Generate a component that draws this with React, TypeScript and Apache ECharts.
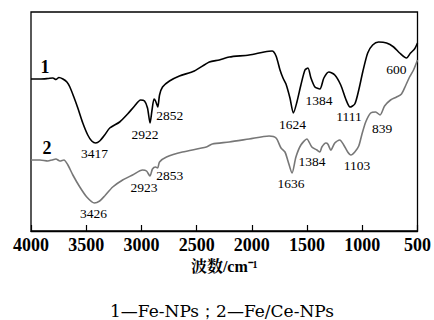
import React, { useEffect, useRef } from "react";
import * as echarts from "echarts";

// Wavenumber (cm^-1) and relative transmittance (arbitrary units)
const wave1 = [4000, 3919, 3847, 3802, 3774, 3747, 3711, 3675, 3648, 3612, 3576, 3531, 3486, 3450, 3414, 3378, 3333, 3287, 3197, 3125, 3062, 3008, 2972, 2945, 2922, 2904, 2886, 2872, 2852, 2836, 2809, 2746, 2656, 2521, 2385, 2295, 2205, 2025, 1889, 1817, 1781, 1745, 1718, 1691, 1655, 1624, 1592, 1556, 1519, 1492, 1465, 1429, 1384, 1348, 1303, 1249, 1195, 1150, 1111, 1068, 1032, 996, 951, 906, 852, 780, 716, 662, 600, 563, 527, 500];
const trans1 = [152, 152, 152.5, 153, 151.5, 153.5, 152, 149, 144, 134, 123, 108, 96, 90, 88, 90, 96, 103, 109, 117, 125, 131, 130, 123, 108, 121, 132, 130, 124, 136, 144, 150, 155, 160, 169, 171, 174, 176, 179, 180, 175, 161, 153, 147, 133, 118, 129, 146, 161, 163, 153, 144, 142, 153, 159, 156, 146, 132, 124, 127, 141, 159, 178, 186, 189, 188, 184, 178, 173, 178, 182, 188];

const wave2 = [4000, 3919, 3847, 3811, 3774, 3738, 3702, 3666, 3621, 3558, 3495, 3426, 3378, 3333, 3260, 3170, 3080, 2990, 2954, 2923, 2900, 2872, 2853, 2836, 2773, 2629, 2412, 2358, 2205, 2025, 1844, 1781, 1736, 1700, 1673, 1636, 1601, 1556, 1502, 1457, 1411, 1384, 1366, 1330, 1312, 1285, 1249, 1204, 1168, 1132, 1103, 1068, 1032, 1005, 969, 924, 879, 839, 798, 744, 690, 645, 609, 572, 536, 500];
const trans2 = [71, 71, 70, 71, 72, 70, 71, 66, 56, 44, 34, 28, 30, 35, 44, 51, 56, 61, 60, 55, 62, 64, 63, 69, 74, 79, 84, 87, 89, 92, 95, 93, 83, 79, 70, 58, 74, 86, 92, 84, 81, 79, 84, 88, 87, 81, 88, 91, 86, 79, 76, 79, 85, 96, 109, 118, 119, 116, 125, 131, 134, 137, 145, 154, 161, 171];

// Peak annotations
const peaks1 = [3417, 2922, 2852, 1624, 1384, 1111, 600];
const peaks1Val = [88, 108, 124, 118, 142, 124, 173];
const peaks1Off = [[-1, 10], [-5, 11], [12, 8], [-1, 11], [-1, 11], [-1, 9], [-10, 11]];

const peaks2 = [3426, 2923, 2853, 1636, 1384, 1103, 839];
const peaks2Val = [28, 55, 63, 58, 79, 76, 116];
const peaks2Off = [[-1, 10], [-6, 11], [12, 7], [-1, 10], [-8, 9], [6, 10], [2, 13]];

const xTicks = [4000, 3500, 3000, 2500, 2000, 1500, 1000, 500];
const seriesNames = ["1", "2"];
const caption = "1—Fe-NPs；2—Fe/Ce-NPs";

const serif = "'Liberation Serif', 'Times New Roman', 'Noto Serif CJK SC', serif";

function zip(a: number[], b: number[]) {
  return a.map((v, i) => [v, b[i]]);
}

function peakMarks(p: number[], v: number[], off: number[][]) {
  return p.map((w, i) => ({
    coord: [w, v[i]],
    value: String(w),
    label: { offset: off[i] },
  }));
}

export default function App() {
  const ref = useRef<HTMLDivElement>(null);
  useEffect(() => {
    const chart = echarts.init(ref.current!, null, { renderer: "svg" });
    const labelStyle = {
      show: true,
      position: "inside",
      formatter: "{c}",
      color: "#000",
      fontFamily: serif,
      fontSize: 13.5,
    };
    chart.setOption({
      animation: false,
      backgroundColor: "#fff",
      grid: {
        left: 31,
        right: 15,
        top: 12,
        bottom: 89,
        show: true,
        borderColor: "#000",
        borderWidth: 1.3,
        backgroundColor: "transparent",
      },
      xAxis: {
        type: "value",
        min: 500,
        max: 4000,
        interval: 500,
        inverse: true,
        name: "波数/cm⁻¹",
        nameLocation: "middle",
        nameGap: 22,
        nameTextStyle: {
          color: "#000",
          fontSize: 16,
          fontWeight: "bold",
          fontFamily: serif,
        },
        axisLine: { show: true, lineStyle: { color: "#000", width: 1.3 } },
        axisTick: { show: true, inside: true, length: 6, lineStyle: { color: "#000", width: 1.2 } },
        axisLabel: {
          color: "#000",
          fontSize: 18,
          fontWeight: "bold",
          fontFamily: serif,
          margin: 5,
          formatter: (v: number) => (xTicks.includes(v) ? String(v) : ""),
        },
        splitLine: { show: false },
      },
      yAxis: {
        type: "value",
        min: 0,
        max: 219,
        show: false,
      },
      series: [
        {
          name: seriesNames[0],
          type: "line",
          data: zip(wave1, trans1),
          showSymbol: false,
          symbol: "none",
          smooth: 0.25,
          lineStyle: { color: "#000", width: 1.6 },
          markPoint: {
            symbol: "circle",
            symbolSize: 0,
            label: labelStyle,
            data: [
              ...peakMarks(peaks1, peaks1Val, peaks1Off),
              {
                coord: [3874, 152],
                value: seriesNames[0],
                label: { offset: [0, -12], fontSize: 18, fontWeight: "bold" },
              },
            ],
          },
        },
        {
          name: seriesNames[1],
          type: "line",
          data: zip(wave2, trans2),
          showSymbol: false,
          symbol: "none",
          smooth: 0.25,
          lineStyle: { color: "#777", width: 1.6 },
          markPoint: {
            symbol: "circle",
            symbolSize: 0,
            label: labelStyle,
            data: [
              ...peakMarks(peaks2, peaks2Val, peaks2Off),
              {
                coord: [3856, 71],
                value: seriesNames[1],
                label: { offset: [0, -12], fontSize: 18, fontWeight: "bold" },
              },
            ],
          },
        },
      ],
      graphic: [
        {
          type: "text",
          x: 222,
          y: 311,
          style: {
            text: caption,
            fill: "#000",
            font: "17px 'DejaVu Serif', serif",
            textAlign: "center",
            textVerticalAlign: "middle",
          },
        },
      ],
    });
    return () => chart.dispose();
  }, []);
  return (
    <div
      ref={ref}
      style={{ position: "absolute", left: 0, top: 0, width: 434, height: 320 }}
    />
  );
}
